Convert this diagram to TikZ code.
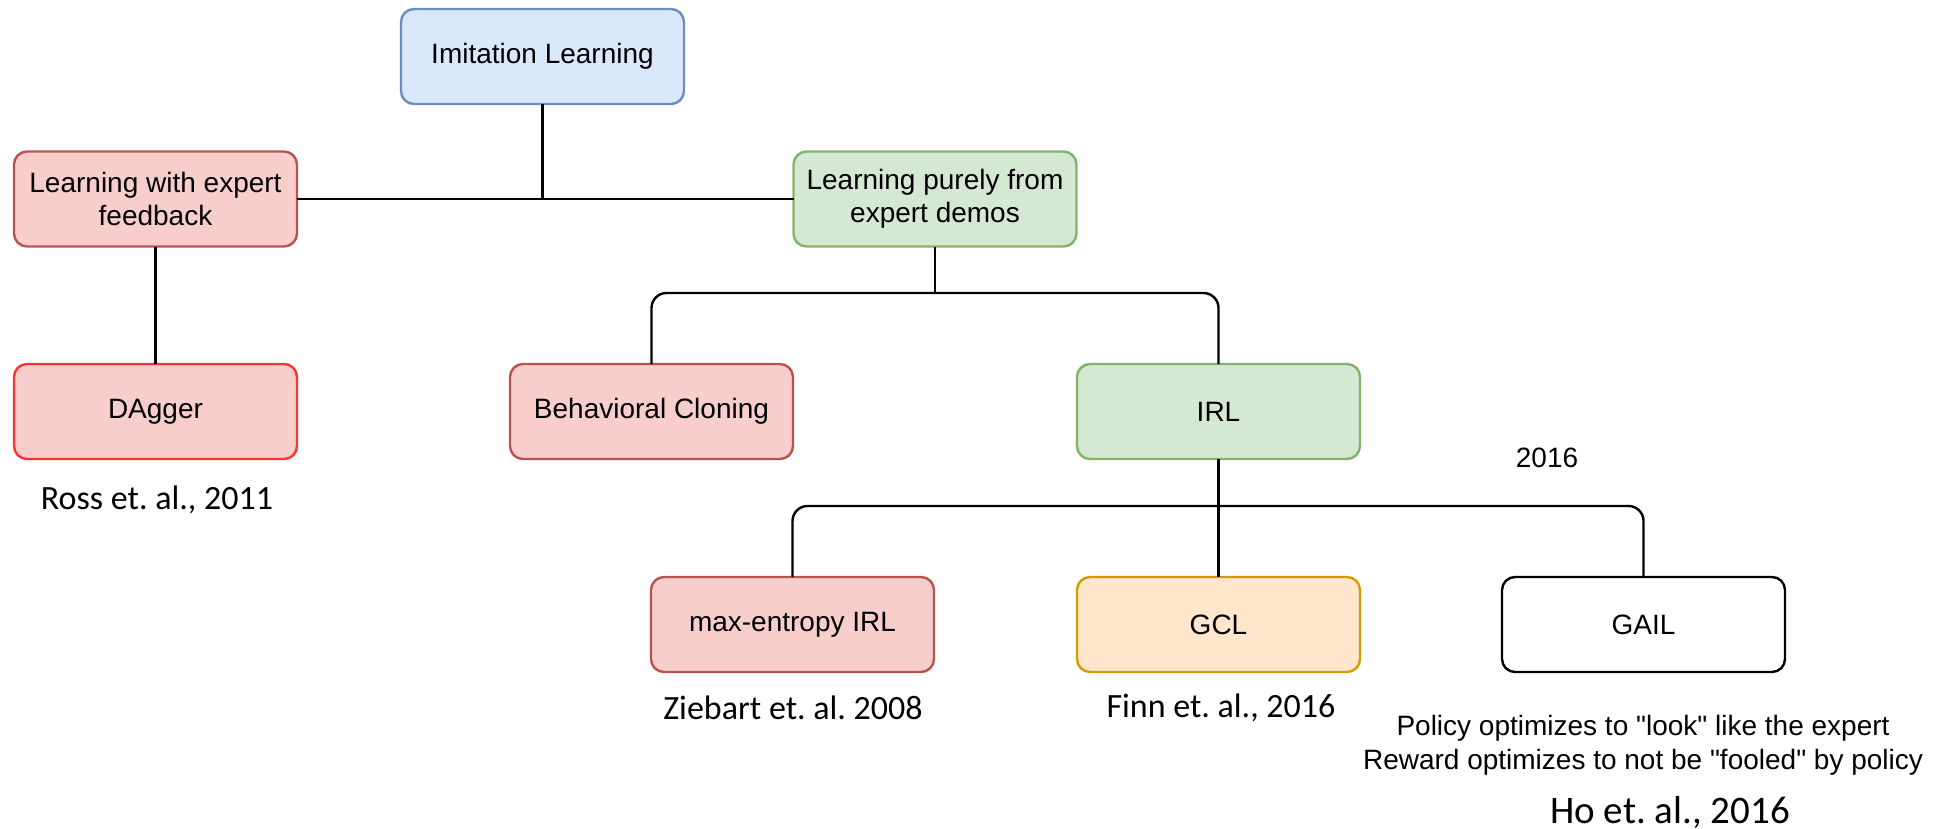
\documentclass[tikz,border=0pt]{standalone}
\usepackage{fontspec}
\setmainfont[Ligatures=TeXOff]{Liberation Sans}
\newfontfamily\citefont{Carlito}
\frenchspacing
\definecolor{bluefill}{HTML}{DAE8FC}\definecolor{bluedraw}{HTML}{6C8EBF}
\definecolor{redfill}{HTML}{F8CECC}\definecolor{reddraw}{HTML}{B85450}
\definecolor{brightred}{HTML}{FF3333}
\definecolor{greenfill}{HTML}{D5E8D4}\definecolor{greendraw}{HTML}{82B366}
\definecolor{orangefill}{HTML}{FFE6CC}\definecolor{orangedraw}{HTML}{D79B00}
\begin{document}
\begin{tikzpicture}[x=1pt,y=-1pt,
  box/.style={draw, rounded corners=13pt, line width=2.4pt, minimum width=283pt, minimum height=95pt,
    inner sep=0pt, outer sep=0pt, align=center, font=\fontsize{28}{33}\selectfont},
  bluebox/.style={box, fill=bluefill, draw=bluedraw},
  redbox/.style={box, fill=redfill, draw=reddraw},
  greenbox/.style={box, fill=greenfill, draw=greendraw},
  orangebox/.style={box, fill=orangefill, draw=orangedraw},
  whitebox/.style={box, fill=white, draw=black},
  link/.style={draw=black, line width=2.4pt, rounded corners=15pt},
  cite/.style={inner sep=0pt, font=\citefont\fontsize{34}{40}\selectfont},
  note/.style={inner sep=0pt, align=center, font=\fontsize{28}{34}\selectfont}]
\useasboundingbox (0,0) rectangle (1934,829);
% nodes
\node[bluebox] (il) at (542.5,56.5) {Imitation Learning};
\node[redbox] (fb) at (155.5,199) {Learning with expert\\feedback};
\node[greenbox] (dm) at (935,199) {Learning purely from\\expert demos};
\node[redbox, draw=brightred] (dagger) at (155.5,411.5) {DAgger};
\node[redbox] (bc) at (651.5,411.5) {Behavioral Cloning};
\node[greenbox] (irl) at (1218.5,411.5) {IRL};
\node[redbox] (me) at (792.5,624.5) {max-entropy IRL};
\node[orangebox] (gcl) at (1218.5,624.5) {GCL};
\node[whitebox] (gail) at (1643.5,624.5) {GAIL};
\coordinate (j1) at (935,293);
\coordinate (j2) at (1218.5,506);
% connectors
\draw[link] (fb.east) -- (dm.west);
\draw[link] (il.south) -- (il.south |- fb.east);
\draw[link] (fb.south) -- (dagger.north);
\draw[link] (dm.south) -- (j1);
\draw[link] (bc.north) |- (j1) -| (irl.north);
\draw[link] (irl.south) -- (gcl.north);
\draw[link] (me.north) |- (j2) -| (gail.north);
% texts
\node[cite] (ross) at (157,500) {Ross et. al., 2011};
\node[cite] (zieb) at (793,708) {Ziebart et. al. 2008};
\node[cite] (finn) at (1221,708) {Finn et. al., 2016};
\node[note] (year) at (1547,458) {2016};
\node[note] (policy) at (1643,745) {Policy optimizes to "look" like the expert\\Reward optimizes to not be "fooled" by policy};
\node[inner sep=0pt, font=\citefont\fontsize{39}{45}\selectfont] (ho) at (1670,812) {Ho et. al., 2016};
\end{tikzpicture}
\end{document}
